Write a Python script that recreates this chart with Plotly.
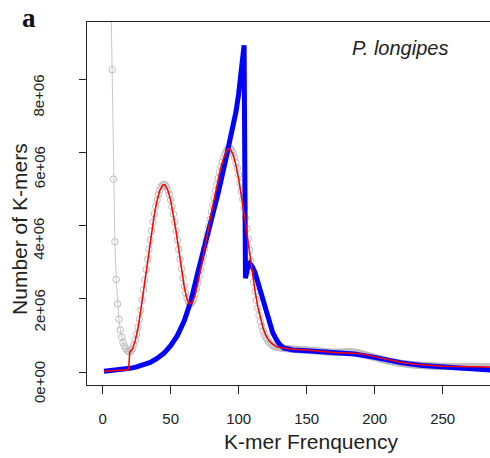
import plotly.graph_objects as go

# ---------------- data (values in millions of k-mers) ----------------
obs_k = list(range(1, 291))
obs_m = [
    150, 80, 40, 22, 14.5, 10.5, 8.26, 5.27, 3.56, 2.53,
    1.86, 1.44, 1.15, 0.95, 0.81, 0.71, 0.64, 0.59, 0.56, 0.55,
    0.58, 0.64, 0.74, 0.87, 1.03, 1.22, 1.44, 1.69, 1.96, 2.24,
    2.52, 2.80, 3.08, 3.35, 3.61, 3.86, 4.10, 4.32, 4.52, 4.70,
    4.85, 4.97, 5.06, 5.11, 5.13, 5.11, 5.06, 4.97, 4.85, 4.70,
    4.52, 4.32, 4.10, 3.86, 3.61, 3.35, 3.08, 2.82, 2.57, 2.35,
    2.16, 2.02, 1.92, 1.87, 1.87, 1.92, 2.00, 2.12, 2.27, 2.44,
    2.62, 2.80, 2.98, 3.17, 3.37, 3.57, 3.77, 3.97, 4.17, 4.37,
    4.57, 4.76, 4.95, 5.13, 5.30, 5.46, 5.61, 5.74, 5.86, 5.96,
    6.04, 6.10, 6.12, 6.10, 6.05, 5.97, 5.86, 5.72, 5.56, 5.38,
    5.17, 4.95, 4.72, 4.47, 4.20, 3.92, 3.63, 3.33, 3.03, 2.74,
    2.46, 2.20, 1.96, 1.74, 1.55, 1.38, 1.24, 1.12, 1.02, 0.94,
    0.89, 0.83, 0.78, 0.75, 0.72, 0.70, 0.69, 0.68, 0.67, 0.66,
    0.66, 0.65, 0.65, 0.64, 0.64, 0.64, 0.63, 0.63, 0.63, 0.62,
    0.62, 0.62, 0.62, 0.61, 0.61, 0.61, 0.61, 0.60, 0.60, 0.60,
    0.60, 0.59, 0.59, 0.59, 0.58, 0.58, 0.58, 0.57, 0.57, 0.57,
    0.56, 0.56, 0.56, 0.55, 0.55, 0.55, 0.54, 0.54, 0.54, 0.54,
    0.54, 0.54, 0.54, 0.54, 0.54, 0.54, 0.54, 0.55, 0.55, 0.55,
    0.55, 0.55, 0.55, 0.54, 0.54, 0.53, 0.53, 0.52, 0.51, 0.50,
    0.49, 0.48, 0.47, 0.46, 0.45, 0.44, 0.43, 0.42, 0.41, 0.40,
    0.39, 0.38, 0.37, 0.36, 0.35, 0.34, 0.33, 0.32, 0.31, 0.30,
    0.29, 0.285, 0.28, 0.27, 0.265, 0.26, 0.25, 0.245, 0.24, 0.235,
    0.23, 0.225, 0.22, 0.215, 0.21, 0.205, 0.20, 0.20, 0.195, 0.19,
    0.19, 0.185, 0.185, 0.18, 0.18, 0.175, 0.175, 0.17, 0.17, 0.17,
    0.165, 0.165, 0.165, 0.16, 0.16, 0.16, 0.16, 0.155, 0.155, 0.155,
    0.155, 0.155, 0.15, 0.15, 0.15, 0.15, 0.15, 0.15, 0.15, 0.145,
    0.145, 0.145, 0.145, 0.145, 0.145, 0.145, 0.145, 0.145, 0.145, 0.145,
    0.145, 0.145, 0.14, 0.14, 0.14, 0.14, 0.14, 0.14, 0.14, 0.14,
    0.14, 0.14, 0.14, 0.14, 0.14, 0.14, 0.14, 0.14, 0.14, 0.14,
]

fit_k = [1, 5, 10, 15, 19, 20, 22, 24, 26, 28, 30, 32, 34, 36, 38, 40, 42, 44, 45,
         46, 48, 50, 52, 54, 56, 58, 60, 62, 64, 66, 68, 70, 72, 74, 76, 78, 80,
         82, 84, 86, 88, 90, 92, 94, 96, 98, 100, 102, 104, 106, 108, 110, 112,
         114, 116, 118, 120, 122, 124, 126, 128, 130, 133, 136, 140, 150, 160,
         170, 180, 185, 190, 200, 210, 220, 230, 240, 250, 260, 270, 280, 290]
fit_m = [0.02, 0.025, 0.03, 0.04, 0.06, 0.55, 0.63, 0.86, 1.2, 1.67, 2.22, 2.78,
         3.33, 3.84, 4.3, 4.68, 4.96, 5.1, 5.12, 5.1, 4.96, 4.69, 4.3, 3.84,
         3.33, 2.8, 2.32, 1.99, 1.86, 1.9, 2.1, 2.42, 2.78, 3.15, 3.55, 3.95,
         4.36, 4.75, 5.12, 5.45, 5.73, 5.95, 6.09, 6.08, 5.93, 5.65, 5.27, 4.83,
         4.33, 3.8, 3.25, 2.72, 2.22, 1.8, 1.46, 1.2, 1.0, 0.87, 0.79, 0.73,
         0.69, 0.67, 0.65, 0.63, 0.62, 0.6, 0.56, 0.53, 0.52, 0.52, 0.5, 0.42,
         0.33, 0.26, 0.21, 0.18, 0.16, 0.15, 0.14, 0.135, 0.13]

blue_k = [1, 5, 10, 15, 20, 25, 30, 35, 40, 45, 50, 55, 60, 65, 70, 75, 80, 85,
          90, 92, 95, 98, 100, 102, 104, 105, 106, 107, 108, 110, 112, 115, 118,
          120, 123, 125, 128, 130, 133, 136, 140, 150, 165, 185, 200, 210, 220,
          235, 250, 265, 283, 290]
blue_m = [0.02, 0.03, 0.05, 0.07, 0.1, 0.14, 0.19, 0.26, 0.37, 0.51, 0.72, 1.0,
          1.4, 1.95, 2.72, 3.45, 4.1, 4.9, 5.72, 6.07, 6.55, 7.1, 7.6, 8.25, 8.93,
          2.56, 2.8, 2.93, 2.97, 2.88, 2.72, 2.33, 1.9, 1.62, 1.28, 1.08, 0.87,
          0.76, 0.66, 0.62, 0.6, 0.58, 0.53, 0.49, 0.4, 0.32, 0.25, 0.18, 0.14,
          0.1, 0.05, 0.04]

y_ticks = [0, 2e6, 4e6, 6e6, 8e6]
y_tick_text = ["0e+00", "2e+06", "4e+06", "6e+06", "8e+06"]
x_ticks = [0, 50, 100, 150, 200, 250]

M = 1e6
FONT = "Liberation Sans, Arial, sans-serif"

fig = go.Figure()
fig.add_trace(go.Scatter(
    x=obs_k, y=[v * M for v in obs_m], mode="lines+markers",
    line=dict(color="#C8C8C8", width=1),
    marker=dict(symbol="circle-open", size=6.5, color="#BEBEBE",
                line=dict(width=1, color="#BEBEBE")),
    showlegend=False, hoverinfo="skip"))
fig.add_trace(go.Scatter(
    x=blue_k, y=[v * M for v in blue_m], mode="lines",
    line=dict(color="#0000FF", width=5), showlegend=False, hoverinfo="skip"))
fig.add_trace(go.Scatter(
    x=fit_k, y=[v * M for v in fit_m], mode="lines",
    line=dict(color="#FF0000", width=1.5), showlegend=False, hoverinfo="skip"))

fig.update_layout(
    width=490, height=458,
    margin=dict(l=87, r=0, t=22, b=73),
    paper_bgcolor="white", plot_bgcolor="white",
    font=dict(family=FONT, color="#222"),
    xaxis=dict(range=[-11.5, 284.8], tickvals=x_ticks,
               ticks="outside", ticklen=8, tickwidth=1, tickcolor="#222",
               showline=True, linecolor="#222", linewidth=1, mirror=True,
               showgrid=False, zeroline=False,
               tickfont=dict(size=15, family=FONT, color="#222"),
               ticklabelstandoff=12),
    yaxis=dict(range=[-0.355e6, 9.563e6], tickvals=y_ticks,
               ticks="outside", ticklen=7, tickwidth=1, tickcolor="#222",
               showline=True, linecolor="#222", linewidth=1,
               showgrid=False, zeroline=False, showticklabels=False),
)

for v, t in zip(y_ticks, y_tick_text):
    fig.add_annotation(x=0, xref="paper", y=v, yref="y", text=t,
                       textangle=-90, showarrow=False, xanchor="center",
                       yanchor="middle", xshift=-48,
                       yshift=-(10 + 0.8 * v / M),
                       font=dict(size=15, family=FONT, color="#222"))

fig.add_annotation(x=0.556, xref="paper", y=0, yref="paper", yshift=-56,
                   text="K-mer Frenquency", showarrow=False,
                   xanchor="center", yanchor="middle",
                   font=dict(size=21, family=FONT, color="#222"))
fig.add_annotation(x=0, xref="paper", xshift=-67, y=0.43, yref="paper",
                   text="Number of K-mers", textangle=-90, showarrow=False,
                   xanchor="center", yanchor="middle",
                   font=dict(size=21, family=FONT, color="#222"))
fig.add_annotation(x=0, xref="paper", xshift=-58, y=1, yref="paper", yshift=4,
                   text="<b>a</b>", showarrow=False,
                   xanchor="center", yanchor="middle",
                   font=dict(size=27, family="Liberation Serif, Times New Roman, serif",
                             color="#111"))
fig.add_annotation(x=0.777, xref="paper", y=1, yref="paper", yshift=-26,
                   text="<i>P. longipes</i>", showarrow=False,
                   xanchor="center", yanchor="middle",
                   font=dict(size=20, family=FONT, color="#222"))

fig.write_html("out.html", config={"displayModeBar": False})
